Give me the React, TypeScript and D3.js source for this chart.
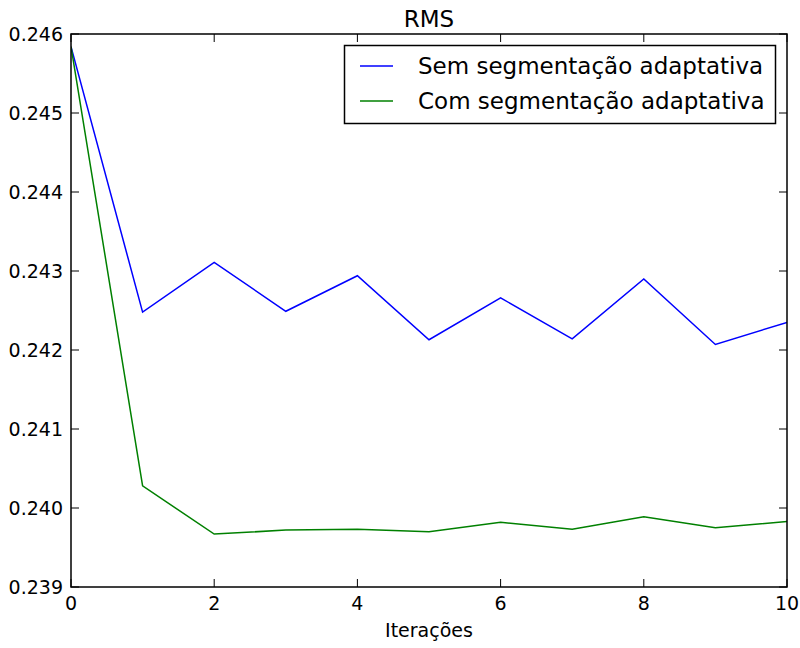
import React from "react";
import * as d3 from "d3";

const iterations = [0, 1, 2, 3, 4, 5, 6, 7, 8, 9, 10];
const semValues = [0.24584, 0.24248, 0.24311, 0.24249, 0.24294, 0.24213, 0.24266, 0.24214, 0.2429, 0.24207, 0.24235];
const comValues = [0.24584, 0.24028, 0.23967, 0.23972, 0.23973, 0.2397, 0.23982, 0.23973, 0.23989, 0.23975, 0.23983];
const seriesNames = ["Sem segmentação adaptativa", "Com segmentação adaptativa"];
const seriesColors = ["#0000ff", "#008000"];
const xTicks = [0, 2, 4, 6, 8, 10];
const yTicks = [0.239, 0.24, 0.241, 0.242, 0.243, 0.244, 0.245, 0.246];

export default function App() {
  const W = 800, H = 648;
  const m = { left: 71, right: 787, top: 34, bottom: 587 };
  const x = d3.scaleLinear().domain([0, 10]).range([m.left, m.right]);
  const y = d3.scaleLinear().domain([0.239, 0.246]).range([m.bottom, m.top]);
  const line = d3.line<number>().x((_, i) => x(iterations[i])).y((d) => y(d));
  const series = [semValues, comValues];
  const font = "'DejaVu Sans', sans-serif";
  const tl = 8;
  return (
    <svg width={W} height={H} style={{ position: "absolute", left: 0, top: 0, background: "#fff" }} fontFamily={font}>
      <rect x={0} y={0} width={W} height={H} fill="#fff" />
      <text x={(m.left + m.right) / 2} y={27} textAnchor="middle" fontSize={23}>RMS</text>
      <defs>
        <clipPath id="clip">
          <rect x={m.left} y={m.top} width={m.right - m.left} height={m.bottom - m.top} />
        </clipPath>
      </defs>
      <g clipPath="url(#clip)">
        {series.map((s, i) => (
          <path key={i} d={line(s) || ""} fill="none" stroke={seriesColors[i]} strokeWidth={1.5} />
        ))}
      </g>
      {xTicks.map((t) => (
        <g key={"x" + t}>
          <line x1={x(t)} x2={x(t)} y1={m.bottom} y2={m.bottom - tl} stroke="#000" />
          <line x1={x(t)} x2={x(t)} y1={m.top} y2={m.top + tl} stroke="#000" />
          <text x={x(t)} y={m.bottom + 23} textAnchor="middle" fontSize={19}>{t}</text>
        </g>
      ))}
      {yTicks.map((t) => (
        <g key={"y" + t}>
          <line x1={m.left} x2={m.left + tl} y1={y(t)} y2={y(t)} stroke="#000" />
          <line x1={m.right} x2={m.right - tl} y1={y(t)} y2={y(t)} stroke="#000" />
          <text x={m.left - 8} y={y(t) + 7} textAnchor="end" fontSize={19}>{t.toFixed(3)}</text>
        </g>
      ))}
      <rect x={m.left} y={m.top} width={m.right - m.left} height={m.bottom - m.top} fill="none" stroke="#000" strokeWidth={1.5} />
      <text x={(m.left + m.right) / 2} y={637} textAnchor="middle" fontSize={19}>Iterações</text>
      <g>
        <rect x={344.5} y={45.5} width={431} height={78} fill="#fff" stroke="#000" strokeWidth={1.5} />
        {seriesNames.map((n, i) => (
          <g key={n}>
            <line x1={360} x2={393} y1={66 + i * 35} y2={66 + i * 35} stroke={seriesColors[i]} strokeWidth={1.5} />
            <text x={418} y={66 + i * 35 + 8} fontSize={23}>{n}</text>
          </g>
        ))}
      </g>
    </svg>
  );
}
